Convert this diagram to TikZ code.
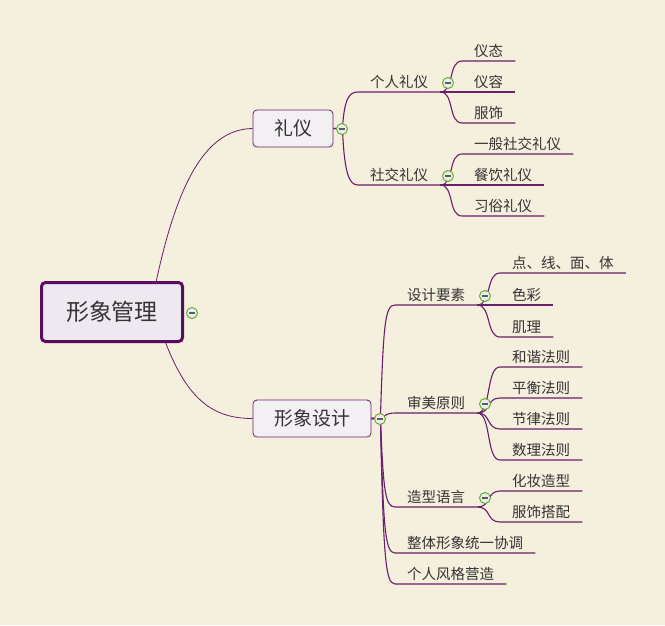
\documentclass[tikz,border=0pt]{standalone}
\usepackage{fontspec}
\setmainfont{Noto Sans CJK SC}
\usetikzlibrary{positioning, calc}
\definecolor{fundo}{HTML}{F5EFDD}
\definecolor{roxo}{HTML}{6A1F6C}
\definecolor{roxoescuro}{HTML}{5A0C5E}
\definecolor{lilas}{HTML}{EEE9F0}
\definecolor{verde}{HTML}{62B034}
\definecolor{texto}{HTML}{333333}

\begin{document}
\begin{tikzpicture}[x=1pt, y=-1pt,
    raiz/.style={draw=roxoescuro, line width=3pt, rounded corners=4pt, fill=lilas,
                 minimum width=141pt, minimum height=59pt, font=\fontsize{23}{26}\selectfont, text=texto},
    topico/.style={draw=roxo, line width=0.8pt, rounded corners=4pt, fill=lilas!70!white,
                   minimum height=37pt, inner xsep=21pt, font=\fontsize{19}{22}\selectfont, text=texto},
    item/.style={anchor=south west, inner xsep=12pt, inner ysep=3pt,
                 font=\fontsize{14.5}{16}\selectfont, text=texto},
    ramo/.style={draw=roxo, line width=1.1pt},
    dobra/.style={circle, draw=verde, line width=1pt, fill=gray!15, minimum size=11pt, inner sep=0pt,
                  path picture={\draw[texto!80, line width=1.3pt] ([xshift=-3pt]path picture bounding box.center)
                                -- ([xshift=3pt]path picture bounding box.center);}}
]
    \fill[fundo] (0,0) rectangle (665,625);
    \useasboundingbox (0,0) rectangle (665,625);

    \node[raiz] (guanli) at (112,312) {形象管理};
    \node[topico] (liyi) at (293,128.5) {礼仪};
    \node[topico] (sheji) at (312,418.5) {形象设计};

    \node[item] (geren) at (358,92) {个人礼仪};
    \node[item] (shejiao) at (358,185) {社交礼仪};
    \node[item] (yitai) at (462,61) {仪态};
    \node[item] (yirong) at (462,92) {仪容};
    \node[item] (fushi) at (462,123) {服饰};
    \node[item] (yiban) at (462,154) {一般社交礼仪};
    \node[item] (canyin) at (462,185) {餐饮礼仪};
    \node[item] (xisu) at (462,216) {习俗礼仪};

    \node[item] (yaosu) at (395,305) {设计要素};
    \node[item] (shenmei) at (395,413) {审美原则};
    \node[item] (yuyan) at (395,507) {造型语言};
    \node[item] (xietiao) at (395,553) {整体形象统一协调};
    \node[item] (fengge) at (395,584) {个人风格营造};
    \node[item] (dian) at (500,273) {点、线、面、体};
    \node[item] (secai) at (500,305) {色彩};
    \node[item] (jili) at (500,337) {肌理};
    \node[item] (hexie) at (500,367) {和谐法则};
    \node[item] (pingheng) at (500,398) {平衡法则};
    \node[item] (jielv) at (500,429) {节律法则};
    \node[item] (shuli) at (500,460) {数理法则};
    \node[item] (huazhuang) at (500,491) {化妆造型};
    \node[item] (dapei) at (500,522) {服饰搭配};

    % ligacoes
    \draw[ramo, line width=0.8pt] (guanli.35) .. controls (176,190) and (203,129) .. (liyi.west);
    \draw[ramo, line width=0.8pt] (guanli.-30) .. controls (188,400) and (213,418.5) .. (sheji.west);

    \draw[ramo] (liyi.east) -- ++(9,0) .. controls +(2,-30) and +(-9,0) .. (geren.south west) -- (geren.south east);
    \draw[ramo] (liyi.east) -- ++(9,0) .. controls +(2,45) and +(-9,0) .. (shejiao.south west) -- (shejiao.south east);
    \draw[ramo] (geren.south east) .. controls +(14,0) and +(-14,0) .. (yitai.south west) -- (yitai.south east);
    \draw[ramo] (geren.south east) -- (yirong.south west) -- (yirong.south east);
    \draw[ramo] (geren.south east) .. controls +(14,0) and +(-14,0) .. (fushi.south west) -- (fushi.south east);
    \draw[ramo] (shejiao.south east) .. controls +(14,0) and +(-14,0) .. (yiban.south west) -- (yiban.south east);
    \draw[ramo] (shejiao.south east) -- (canyin.south west) -- (canyin.south east);
    \draw[ramo] (shejiao.south east) .. controls +(14,0) and +(-14,0) .. (xisu.south west) -- (xisu.south east);

    \draw[ramo] (sheji.east) -- ++(9,0) .. controls +(3,-95) and +(-10,0) .. (yaosu.south west) -- (yaosu.south east);
    \draw[ramo] (sheji.east) -- ++(9,0) .. controls +(5,-3) and +(-8,0) .. (shenmei.south west) -- (shenmei.south east);
    \draw[ramo] (sheji.east) -- ++(9,0) .. controls +(3,72) and +(-10,0) .. (yuyan.south west) -- (yuyan.south east);
    \draw[ramo] (sheji.east) -- ++(9,0) .. controls +(3,110) and +(-10,0) .. (xietiao.south west) -- (xietiao.south east);
    \draw[ramo] (sheji.east) -- ++(9,0) .. controls +(3,135) and +(-10,0) .. (fengge.south west) -- (fengge.south east);

    \draw[ramo] (yaosu.south east) .. controls +(14,0) and +(-14,0) .. (dian.south west) -- (dian.south east);
    \draw[ramo] (yaosu.south east) -- (secai.south west) -- (secai.south east);
    \draw[ramo] (yaosu.south east) .. controls +(14,0) and +(-14,0) .. (jili.south west) -- (jili.south east);
    \draw[ramo] (shenmei.south east) .. controls +(14,0) and +(-14,0) .. (hexie.south west) -- (hexie.south east);
    \draw[ramo] (shenmei.south east) .. controls +(14,0) and +(-14,0) .. (pingheng.south west) -- (pingheng.south east);
    \draw[ramo] (shenmei.south east) .. controls +(14,0) and +(-14,0) .. (jielv.south west) -- (jielv.south east);
    \draw[ramo] (shenmei.south east) .. controls +(14,0) and +(-14,0) .. (shuli.south west) -- (shuli.south east);
    \draw[ramo] (yuyan.south east) .. controls +(14,0) and +(-14,0) .. (huazhuang.south west) -- (huazhuang.south east);
    \draw[ramo] (yuyan.south east) .. controls +(14,0) and +(-14,0) .. (dapei.south west) -- (dapei.south east);

    % botoes de recolher
    \node[dobra] (dguanli) at (192,313) {};
    \node[dobra] (dliyi) at (342,129) {};
    \node[dobra] (dsheji) at (380,419) {};
    \node[dobra] (dgeren) at (448,83) {};
    \node[dobra] (dshejiao) at (448,176) {};
    \node[dobra] (dyaosu) at (485,296) {};
    \node[dobra] (dshenmei) at (485,404) {};
    \node[dobra] (dyuyan) at (485,498) {};
\end{tikzpicture}
\end{document}
